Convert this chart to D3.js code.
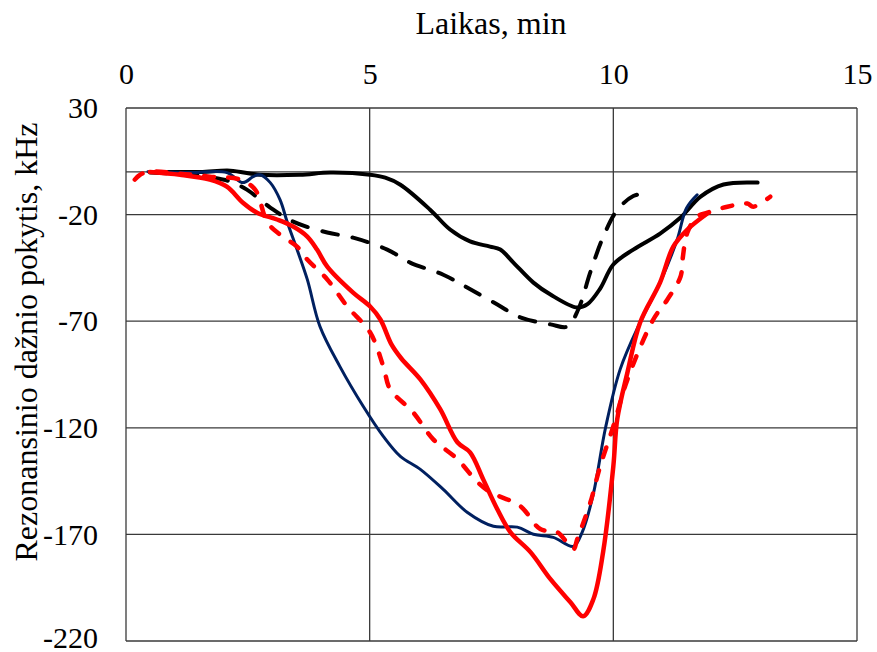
<!DOCTYPE html>
<html>
<head>
<meta charset="utf-8">
<script src="https://cdn.jsdelivr.net/npm/d3@7"></script>
<style>
  html, body { margin: 0; padding: 0; background: #fff; }
  svg { display: block; }
  text { font-family: "Liberation Serif", "Times New Roman", serif; fill: #000; }
</style>
</head>
<body>
<svg id="chart" width="877" height="652"></svg>
<script>
// Axis ticks
const xTicks = [0, 5, 10, 15];
const yTicks = [30, -20, -70, -120, -170, -220];

// Series: [time in min, frequency shift in kHz]
const blackSolid = [
  [0.49, 0], [1.52, 0], [2.14, 0.6], [2.75, -1.3], [3.57, -1.3], [4.19, -0.3],
  [5.01, -1.3], [5.32, -2.7], [5.63, -6], [6.24, -17.7], [6.65, -27], [7.06, -32.6],
  [7.47, -35], [7.68, -36.4], [7.95, -42.5], [8.36, -51.9], [8.71, -57.5],
  [9.26, -63.6], [9.47, -62], [9.73, -54.7], [10.0, -43.4], [10.41, -36.4],
  [10.96, -28.9], [11.38, -21.4], [11.79, -11.6], [12.26, -5.9], [12.96, -5]
];
const blackDashed = [
  [0.5, -0.3], [1.31, -1.3], [1.79, -2.7], [2.14, -4.5], [2.48, -8.3], [2.96, -16.7],
  [3.43, -23.3], [4.13, -28.4], [4.66, -30.8], [5.36, -36.4], [5.83, -42.5],
  [6.51, -48.2], [7.0, -54.2], [7.62, -62.2], [8.09, -68.2], [8.71, -71.5],
  [9.06, -72.5], [9.28, -64.5], [9.53, -46.9], [9.79, -30.6], [10.08, -17.9],
  [10.41, -11.3], [10.7, -9.9]
];
const navySolid = [
  [0.45, 0.1], [1.31, -0.3], [2.07, -0.3], [2.4, -5], [2.61, -2.2], [2.75, -1.3],
  [2.96, -5], [3.16, -13], [3.31, -23.6], [3.51, -36.4], [3.72, -50.4], [3.98, -72.5],
  [4.39, -91.3], [4.87, -110], [5.28, -124], [5.63, -133.4], [6.04, -139.5],
  [6.51, -148.9], [7.0, -159.6], [7.54, -166.2], [8.03, -166.6], [8.36, -169.9],
  [8.77, -171.4], [9.18, -175.6], [9.36, -169], [9.59, -151], [9.84, -120],
  [10.14, -92.6], [10.55, -70.6], [10.96, -51.8], [11.31, -31.7], [11.5, -17],
  [11.72, -10.7]
];
const redSolid = [
  [0.49, 0], [1.11, -1.3], [1.72, -3.6], [2.07, -6.9], [2.4, -14.4], [2.69, -19.1],
  [3.1, -22.3], [3.43, -25.6], [3.72, -30.3], [3.92, -36.4], [4.13, -44.4],
  [4.66, -56.6], [5.01, -63.1], [5.22, -69.2], [5.45, -81], [5.65, -87.5],
  [6.04, -97.3], [6.45, -111.4], [6.8, -126.8], [7.06, -131.5], [7.33, -144.2],
  [7.62, -158.2], [7.89, -169], [8.3, -178.3], [8.71, -191], [9.12, -201.8],
  [9.38, -208.4], [9.59, -200.4], [9.79, -178.3], [10.0, -138], [10.08, -116],
  [10.29, -94], [10.55, -70.6], [10.96, -51.8], [11.23, -35], [11.52, -27],
  [11.93, -19.5]
];
const redDashed = [
  [0.18, -3.6], [0.29, -1.3], [0.49, 0.1], [1.11, -0.8], [1.72, -2.2], [2.34, -3.6],
  [2.65, -8.3], [2.9, -23.6], [3.16, -29.4], [3.51, -35], [3.72, -41.1], [4.13, -50.4],
  [4.54, -63.1], [5.01, -75.3], [5.28, -91.2], [5.42, -101.9], [5.89, -112.7],
  [6.3, -125.3], [6.8, -134.7], [7.21, -145.4], [7.47, -150.1], [8.09, -156.7],
  [8.5, -167.5], [8.85, -168.9], [9.18, -176.9], [9.26, -172.2], [9.53, -154.9],
  [9.73, -138], [10.0, -119.3], [10.29, -97.3], [10.82, -69.2], [11.11, -59.8],
  [11.38, -49], [11.42, -41.1], [11.52, -28.4], [11.72, -20.9], [11.93, -19.1],
  [12.34, -16.3], [12.75, -14.8], [12.87, -16.3], [13.22, -11.6]
];

const svg = d3.select("#chart");
const plotLeft = 126, plotRight = 857, plotTop = 108, plotBottom = 641;

const x = d3.scaleLinear().domain([0, 15]).range([plotLeft, plotRight]);
const y = d3.scaleLinear().domain([-220, 30]).range([plotBottom, plotTop]);

// Grid: horizontal lines at every y tick, vertical lines at every x tick
const grid = svg.append("g").attr("stroke", "#3a3a3a").attr("stroke-width", 1.3);
grid.selectAll("line.h").data(yTicks).join("line")
  .attr("x1", plotLeft).attr("x2", plotRight)
  .attr("y1", d => y(d)).attr("y2", d => y(d));
grid.selectAll("line.v").data(xTicks).join("line")
  .attr("y1", plotTop).attr("y2", plotBottom)
  .attr("x1", d => x(d)).attr("x2", d => x(d));
// Horizontal axis crosses at zero
grid.append("line")
  .attr("x1", plotLeft).attr("x2", plotRight)
  .attr("y1", y(0)).attr("y2", y(0));

// Tick labels via axes with hidden lines
const tickFont = 30;
const xAxis = svg.append("g")
  .attr("transform", `translate(0,${plotTop - 21})`)
  .call(d3.axisTop(x).tickValues(xTicks).tickSize(0).tickFormat(d3.format("d")));
xAxis.select(".domain").remove();
xAxis.selectAll("text").attr("font-size", tickFont).attr("font-family", "Liberation Serif").attr("fill", "#000");

const yAxis = svg.append("g")
  .attr("transform", `translate(${plotLeft - 25},0)`)
  .call(d3.axisLeft(y).tickValues(yTicks).tickSize(0).tickFormat(d => String(d)));
yAxis.select(".domain").remove();
yAxis.selectAll("text").attr("font-size", tickFont).attr("font-family", "Liberation Serif").attr("fill", "#000")
  .attr("dy", d => d === -220 ? "0.2em" : "0.32em");

// Axis titles
svg.append("text")
  .attr("x", 491).attr("y", 34)
  .attr("text-anchor", "middle")
  .attr("font-size", 32)
  .text("Laikas, min");
svg.append("text")
  .attr("transform", "translate(37,342) rotate(-90)")
  .attr("text-anchor", "middle")
  .attr("font-size", 32)
  .text("Rezonansinio dažnio pokytis, kHz");

// Curves
const line = d3.line()
  .x(d => x(d[0]))
  .y(d => y(d[1]))
  .curve(d3.curveCatmullRom.alpha(0.5));

const series = [
  { data: blackSolid, color: "#000000", width: 4, dash: null },
  { data: blackDashed, color: "#000000", width: 4, dash: "16,15" },
  { data: navySolid, color: "#002060", width: 3, dash: null },
  { data: redSolid, color: "#ff0000", width: 4.5, dash: null },
  { data: redDashed, color: "#ff0000", width: 4.5, dash: "10,14" }
];

svg.append("g").selectAll("path").data(series).join("path")
  .attr("d", s => line(s.data))
  .attr("fill", "none")
  .attr("stroke", s => s.color)
  .attr("stroke-width", s => s.width)
  .attr("stroke-linecap", "round")
  .attr("stroke-linejoin", "round")
  .attr("stroke-dasharray", s => s.dash);
</script>
</body>
</html>
